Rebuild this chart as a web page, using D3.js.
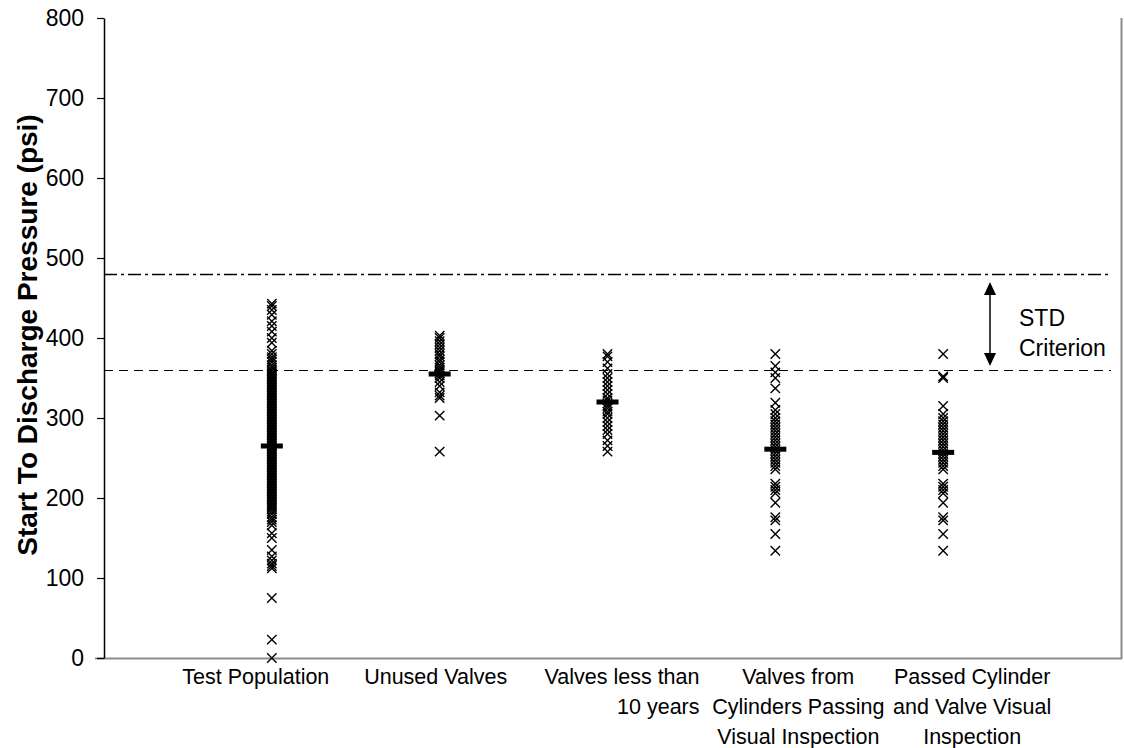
<!DOCTYPE html>
<html>
<head>
<meta charset="utf-8">
<script src="https://cdn.jsdelivr.net/npm/d3@7"></script>
<style>
  html, body { margin: 0; padding: 0; background: #fff; }
  svg { display: block; font-family: "Liberation Sans", Arial, sans-serif; }
</style>
</head>
<body>
<svg id="chart" width="1124" height="748"></svg>
<script>
// Category labels (one entry per line of each label)
const categories = [
  ["Test Population"],
  ["Unused Valves"],
  ["Valves less than", "10 years"],
  ["Valves from", "Cylinders Passing", "Visual Inspection"],
  ["Passed Cylinder", "and Valve Visual", "Inspection"]
];

// Start-to-discharge pressure readings (psi) for each group
const testPopulation = [
  0, 23, 75, 112, 115, 118, 122, 127, 135, 150, 156, 166, 170, 173, 176, 180, 183, 186, 188,
  190, 192, 194, 196, 198, 200, 202, 204, 206, 208, 210, 212, 214, 216, 218, 220, 222, 224,
  226, 228, 230, 232, 234, 236, 238, 240, 242, 244, 246, 248, 250, 252, 254, 256, 258, 260,
  262, 264, 266, 268, 270, 272, 274, 276, 278, 280, 282, 284, 286, 288, 290, 292, 294, 296,
  298, 300, 302, 304, 306, 308, 310, 312, 314, 316, 318, 320, 322, 324, 326, 328, 330, 332,
  334, 336, 338, 340, 342, 344, 346, 348, 350, 352, 354, 356, 358, 360, 363, 366, 370, 373,
  376, 380, 384, 394, 400, 408, 415, 421, 429, 435, 440, 443
];
const unusedValves = [
  258, 303, 325, 328, 332, 340, 345, 350, 353, 356, 358, 360, 363, 366, 370, 373, 377,
  380, 384, 388, 392, 396, 400, 403
];
const valvesUnder10 = [
  258, 265, 272, 280, 285, 290, 295, 300, 305, 308, 312, 315, 318, 322, 325, 330, 335,
  340, 345, 350, 355, 362, 370, 377, 380
];
const valvesCylPassing = [
  134, 155, 172, 176, 194, 206, 210, 214, 218, 236, 240, 244, 248, 252, 256, 260, 264, 268,
  272, 276, 280, 284, 288, 292, 296, 300, 305, 310, 319, 337, 350, 357, 365, 380
];
const passedCylValve = [
  134, 155, 172, 176, 194, 206, 210, 214, 218, 236, 240, 244, 248, 252, 256, 260, 264, 268,
  272, 276, 280, 284, 288, 292, 296, 300, 305, 315, 350, 352, 380
];
const seriesValues = [testPopulation, unusedValves, valvesUnder10, valvesCylPassing, passedCylValve];

// Group averages
const groupMeans = [265, 355, 320, 261, 257];

// Reference lines
const stdUpper = 480;
const stdLower = 360;

const yTicks = [0, 100, 200, 300, 400, 500, 600, 700, 800];

const svg = d3.select("#chart");
const plotLeft = 104, plotRight = 1111, plotTop = 18, plotBottom = 658;
const tickSize = 23, catSize = 21.5;

const x = d3.scaleLinear().domain([0, 6]).range([plotLeft, plotRight]);
const y = d3.scaleLinear().domain([0, 800]).range([plotBottom, plotTop]);

// Plot frame: grey bottom and right edges
svg.append("line").attr("x1", 95).attr("x2", 1122).attr("y1", plotBottom + 0.5).attr("y2", plotBottom + 0.5)
  .attr("stroke", "#8c8c8c").attr("stroke-width", 2);
svg.append("line").attr("x1", 1121.5).attr("x2", 1121.5).attr("y1", plotTop).attr("y2", plotBottom + 1)
  .attr("stroke", "#8c8c8c").attr("stroke-width", 2);

// Y axis
const yAxis = svg.append("g").attr("transform", `translate(${plotLeft},0)`)
  .call(d3.axisLeft(y).tickValues(yTicks).tickSize(7).tickPadding(13).tickSizeOuter(0));
yAxis.select(".domain").attr("stroke", "#000").attr("stroke-width", 1.5);
yAxis.selectAll(".tick line").attr("stroke", "#000").attr("stroke-width", 1.2);
yAxis.selectAll(".tick text").attr("font-size", tickSize).attr("fill", "#000")
  .attr("font-family", "Liberation Sans, Arial, sans-serif");

// Y axis title
svg.append("text")
  .attr("transform", `translate(37,${(plotTop + plotBottom) / 2 - 3}) rotate(-90)`)
  .attr("text-anchor", "middle")
  .attr("font-size", 28).attr("font-weight", "bold")
  .text("Start To Discharge Pressure (psi)");

// STD criterion lines
svg.append("line").attr("x1", plotLeft).attr("x2", plotRight)
  .attr("y1", y(stdUpper) + 0.5).attr("y2", y(stdUpper) + 0.5)
  .attr("stroke", "#000").attr("stroke-width", 1.5).attr("stroke-dasharray", "13,4,3,4");
svg.append("line").attr("x1", plotLeft).attr("x2", plotRight)
  .attr("y1", y(stdLower) + 0.5).attr("y2", y(stdLower) + 0.5)
  .attr("stroke", "#000").attr("stroke-width", 1).attr("stroke-dasharray", "9,6");

// Double-headed arrow between the criterion lines
const ax = 990;
const aTop = y(stdUpper) + 8, aBot = y(stdLower) - 4;
svg.append("line").attr("x1", ax).attr("x2", ax).attr("y1", aTop + 10).attr("y2", aBot - 10)
  .attr("stroke", "#000").attr("stroke-width", 1.5);
svg.append("path").attr("d", `M${ax},${aTop} L${ax - 6},${aTop + 13} L${ax + 6},${aTop + 13}Z`).attr("fill", "#000");
svg.append("path").attr("d", `M${ax},${aBot} L${ax - 6},${aBot - 13} L${ax + 6},${aBot - 13}Z`).attr("fill", "#000");

svg.append("text").attr("x", 1019).attr("y", 326).attr("font-size", tickSize).text("STD");
svg.append("text").attr("x", 1019).attr("y", 356).attr("font-size", tickSize).text("Criterion");

// Data points as x markers
const h = 4.7;
seriesValues.forEach((vals, i) => {
  const cx = x(i + 1);
  const g = svg.append("g");
  g.selectAll("path").data(vals).join("path")
    .attr("d", v => {
      const cy = y(v);
      return `M${cx - h},${cy - h}L${cx + h},${cy + h}M${cx - h},${cy + h}L${cx + h},${cy - h}`;
    })
    .attr("stroke", "#000").attr("stroke-width", 1.4).attr("fill", "none");
});

// Group means as thick dashes
svg.append("g").selectAll("rect").data(groupMeans).join("rect")
  .attr("x", (d, i) => x(i + 1) - 11)
  .attr("y", d => y(d) - 2.5)
  .attr("width", 22).attr("height", 5)
  .attr("fill", "#000");

// Category labels under the axis
const labelAnchors = [
  { dx: -16, anchor: "middle" },
  { dx: -4, anchor: "middle" },
  { dx: 92, anchor: "end" },
  { dx: 23, anchor: "middle" },
  { dx: 29, anchor: "middle" }
];
categories.forEach((lines, i) => {
  const la = labelAnchors[i];
  const t = svg.append("text")
    .attr("text-anchor", la.anchor)
    .attr("font-size", catSize);
  lines.forEach((ln, j) => {
    t.append("tspan").attr("x", x(i + 1) + la.dx).attr("y", 684 + j * 30).text(ln);
  });
});
</script>
</body>
</html>
